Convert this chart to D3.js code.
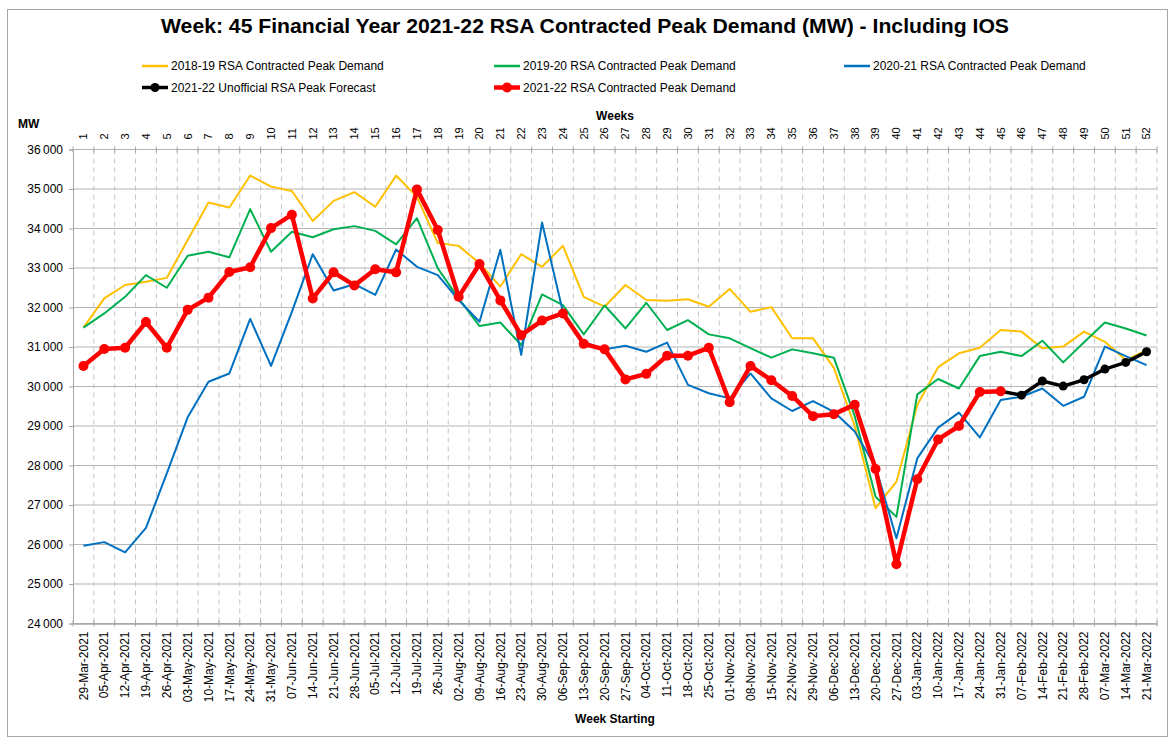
<html>
<head>
<script src="https://d3js.org/d3.v7.min.js"></script>
<style>
  body { margin: 0; background: #fff; }
  text { font-family: "Liberation Sans", Arial, sans-serif; fill: #000; }
</style>
</head>
<body>
<svg id="chart" width="1171" height="740"></svg>
<script>
var weeks = [1, 2, 3, 4, 5, 6, 7, 8, 9, 10, 11, 12, 13, 14, 15, 16, 17, 18, 19, 20, 21, 22, 23, 24, 25, 26,
    27, 28, 29, 30, 31, 32, 33, 34, 35, 36, 37, 38, 39, 40, 41, 42, 43, 44, 45, 46, 47, 48, 49, 50, 51, 52];

var weekStarts = ["29-Mar-2021", "05-Apr-2021", "12-Apr-2021", "19-Apr-2021", "26-Apr-2021", "03-May-2021",
    "10-May-2021", "17-May-2021", "24-May-2021", "31-May-2021", "07-Jun-2021", "14-Jun-2021", "21-Jun-2021",
    "28-Jun-2021", "05-Jul-2021", "12-Jul-2021", "19-Jul-2021", "26-Jul-2021", "02-Aug-2021", "09-Aug-2021",
    "16-Aug-2021", "23-Aug-2021", "30-Aug-2021", "06-Sep-2021", "13-Sep-2021", "20-Sep-2021", "27-Sep-2021",
    "04-Oct-2021", "11-Oct-2021", "18-Oct-2021", "25-Oct-2021", "01-Nov-2021", "08-Nov-2021", "15-Nov-2021",
    "22-Nov-2021", "29-Nov-2021", "06-Dec-2021", "13-Dec-2021", "20-Dec-2021", "27-Dec-2021", "03-Jan-2022",
    "10-Jan-2022", "17-Jan-2022", "24-Jan-2022", "31-Jan-2022", "07-Feb-2022", "14-Feb-2022", "21-Feb-2022",
    "28-Feb-2022", "07-Mar-2022", "14-Mar-2022", "21-Mar-2022"];

var yTicks = [24000, 25000, 26000, 27000, 28000, 29000, 30000, 31000, 32000, 33000, 34000, 35000, 36000];

// weekly peak demand, MW
var demand1819 = [31490, 32230, 32570, 32650, 32750, 33710, 34660, 34530, 35340, 35060, 34950, 34190, 34700,
    34920, 34550, 35340, 34800, 33630, 33560, 33120, 32530, 33350, 33030, 33560, 32270, 32020,
    32570, 32190, 32170, 32210, 32020, 32470, 31890, 32010, 31220, 31220, 30470, 29000, 26920,
    27590, 29530, 30490, 30840, 30980, 31430, 31390, 30970, 31010, 31390, 31130, 30670, 30920];

var demand1920 = [31490, 31850, 32270, 32820, 32500, 33310, 33410, 33270, 34490, 33410, 33920, 33780, 33980,
    34060, 33940, 33600, 34260, 32990, 32230, 31530, 31620, 31050, 32330, 32060, 31320, 32050,
    31470, 32120, 31430, 31680, 31320, 31220, 30970, 30730, 30940, 30840, 30730, 29250, 27210,
    26700, 29800, 30190, 29950, 30770, 30880, 30770, 31160, 30610, 31120, 31620, 31470, 31290];

var demand2021 = [25970, 26060, 25800, 26420, 27800, 29220, 30120, 30330, 31710, 30520, 31890, 33350, 32430,
    32590, 32320, 33470, 33030, 32820, 32190, 31640, 33460, 30800, 34150, 31890, 31130, 30940,
    31030, 30880, 31110, 30040, 29830, 29700, 30330, 29700, 29380, 29630, 29360, 28860, 27970,
    26160, 28180, 28960, 29340, 28710, 29660, 29740, 29950, 29510, 29740, 31010, 30770, 30540];

var forecast2122 = [null, null, null, null, null, null, null, null, null, null, null, null, null,
    null, null, null, null, null, null, null, null, null, null, null, null, null,
    null, null, null, null, null, null, null, null, null, null, null, null, null,
    null, null, null, null, null, 29880, 29780, 30140, 30010, 30170, 30440, 30610, 30880];

var demand2122 = [30520, 30950, 30980, 31630, 30980, 31940, 32250, 32900, 33020, 34010, 34350, 32230, 32890,
    32560, 32970, 32890, 34990, 33960, 32270, 33100, 32180, 31300, 31670, 31850, 31080, 30940,
    30180, 30320, 30780, 30780, 30980, 29600, 30520, 30160, 29760, 29250, 29300, 29540, 27910,
    25500, 27650, 28660, 29000, 29860, 29880, null, null, null, null, null, null, null];

var seriesNames = ["2018-19 RSA Contracted Peak Demand", "2019-20 RSA Contracted Peak Demand",
    "2020-21 RSA Contracted Peak Demand", "2021-22 Unofficial RSA Peak Forecast",
    "2021-22 RSA Contracted Peak Demand"];
var seriesColors = ["#FFC000", "#00B050", "#0070C0", "#000000", "#FF0000"];

var series = [
    { name: seriesNames[0], color: seriesColors[0], values: demand1819, width: 2, r: 0 },
    { name: seriesNames[1], color: seriesColors[1], values: demand1920, width: 2, r: 0 },
    { name: seriesNames[2], color: seriesColors[2], values: demand2021, width: 2, r: 0 },
    { name: seriesNames[3], color: seriesColors[3], values: forecast2122, width: 3.5, r: 4.5 },
    { name: seriesNames[4], color: seriesColors[4], values: demand2122, width: 4.5, r: 5 }
];

var svg = d3.select("#chart");

// outer border
svg.append("rect")
    .attr("x", 7.5).attr("y", 9.5)
    .attr("width", 1160).attr("height", 727)
    .attr("fill", "none").attr("stroke", "#a6a6a6");

var x = d3.scaleBand().domain(weeks).range([73, 1157]);
var y = d3.scaleLinear().domain([24000, 36000]).range([623.5, 149.5]);
function cx(w) { return x(w) + x.bandwidth() / 2; }

var fmt = d3.formatLocale({ decimal: ".", thousands: "\u2009", grouping: [3], currency: ["", ""] }).format(",d");

// title
svg.append("text")
    .attr("x", 585).attr("y", 33)
    .attr("text-anchor", "middle")
    .attr("textLength", 848).attr("lengthAdjust", "spacingAndGlyphs")
    .style("font-size", "20px").style("font-weight", "bold")
    .text("Week: 45 Financial Year 2021-22 RSA Contracted Peak Demand (MW) - Including IOS");

// gridlines
svg.append("g").selectAll("line")
    .data(yTicks)
    .enter().append("line")
    .attr("x1", 73).attr("x2", 1157)
    .attr("y1", d => y(d)).attr("y2", d => y(d))
    .attr("stroke", "#b4b4b4").attr("stroke-width", 1.2);

var bounds = weeks.slice(1).map(w => x(w)).concat([x.range()[1]]);
svg.append("g").selectAll("line")
    .data(bounds)
    .enter().append("line")
    .attr("x1", d => d).attr("x2", d => d)
    .attr("y1", y(36000)).attr("y2", y(24000))
    .attr("stroke", "#c4c4c4").attr("stroke-width", 1)
    .attr("stroke-dasharray", "5,4");

// y axis
var yAxis = svg.append("g")
    .attr("transform", "translate(73,0)")
    .call(d3.axisLeft(y).tickValues(yTicks).tickSize(4).tickPadding(6).tickFormat(fmt));
yAxis.select(".domain").attr("stroke", "#a6a6a6");
yAxis.selectAll(".tick line").attr("stroke", "#a6a6a6");
yAxis.selectAll("text").style("font-size", "12px").style("font-family", "Liberation Sans, Arial, sans-serif").attr("fill", "#404040");

// top axis (week numbers)
var topAxis = svg.append("g")
    .attr("transform", "translate(0," + y(36000) + ")")
    .call(d3.axisTop(x).tickSize(0).tickFormat(d => d));
topAxis.select(".domain").remove();
topAxis.selectAll("text")
    .attr("transform", "rotate(-90)")
    .attr("x", 10).attr("y", 0).attr("dy", "0.35em")
    .attr("text-anchor", "start")
    .style("font-size", "11px").style("font-family", "Liberation Sans, Arial, sans-serif");

// bottom axis (week starting dates)
var botAxis = svg.append("g")
    .attr("transform", "translate(0," + y(24000) + ")")
    .call(d3.axisBottom(x).tickSize(0).tickFormat((d, i) => weekStarts[i]));
botAxis.select(".domain").attr("stroke", "#a6a6a6").attr("stroke-width", 1.5);
botAxis.selectAll("text")
    .attr("transform", "rotate(-90)")
    .attr("x", -8).attr("y", 0).attr("dy", "0.35em")
    .attr("text-anchor", "end")
    .style("font-size", "12px").style("font-family", "Liberation Sans, Arial, sans-serif");

// boundary tick marks on top and bottom axes
var tickXs = [x.range()[0]].concat(bounds);
[y(36000), y(24000)].forEach(function (ty) {
    svg.append("g").selectAll("line")
        .data(tickXs)
        .enter().append("line")
        .attr("x1", d => d).attr("x2", d => d)
        .attr("y1", ty - 3).attr("y2", ty + 3)
        .attr("stroke", "#a6a6a6");
});

// axis titles
svg.append("text").attr("x", 18).attr("y", 128)
    .style("font-size", "12px").style("font-weight", "bold").text("MW");
svg.append("text").attr("x", 615).attr("y", 120).attr("text-anchor", "middle")
    .style("font-size", "12px").style("font-weight", "bold").text("Weeks");
svg.append("text").attr("x", 615).attr("y", 723).attr("text-anchor", "middle")
    .style("font-size", "12px").style("font-weight", "bold").text("Week Starting");

// series
var line = d3.line()
    .defined(d => d.v != null)
    .x(d => cx(d.w))
    .y(d => y(d.v));

series.forEach(function (s) {
    var pts = weeks.map((w, i) => ({ w: w, v: s.values[i] }));
    svg.append("path")
        .datum(pts)
        .attr("d", line)
        .attr("fill", "none")
        .attr("stroke", s.color)
        .attr("stroke-width", s.width)
        .attr("stroke-linejoin", "round");
    if (s.r > 0) {
        svg.append("g").selectAll("circle")
            .data(pts.filter(d => d.v != null))
            .enter().append("circle")
            .attr("cx", d => cx(d.w))
            .attr("cy", d => y(d.v))
            .attr("r", s.r)
            .attr("fill", s.color);
    }
});

// legend
var legendPos = [[142, 66], [494, 66], [844, 66], [142, 87.5], [494, 87.5]];
series.forEach(function (s, i) {
    var g = svg.append("g").attr("transform", "translate(" + legendPos[i][0] + "," + legendPos[i][1] + ")");
    g.append("line").attr("x1", 0).attr("x2", 26).attr("y1", 0).attr("y2", 0)
        .attr("stroke", s.color).attr("stroke-width", s.r > 0 ? s.width : 2.5);
    if (s.r > 0) {
        g.append("circle").attr("cx", 13).attr("cy", 0).attr("r", s.r).attr("fill", s.color);
    }
    g.append("text").attr("x", 29).attr("y", 4.2)
        .style("font-size", "12px").attr("fill", "#262626").text(s.name);
});
</script>
</body>
</html>
